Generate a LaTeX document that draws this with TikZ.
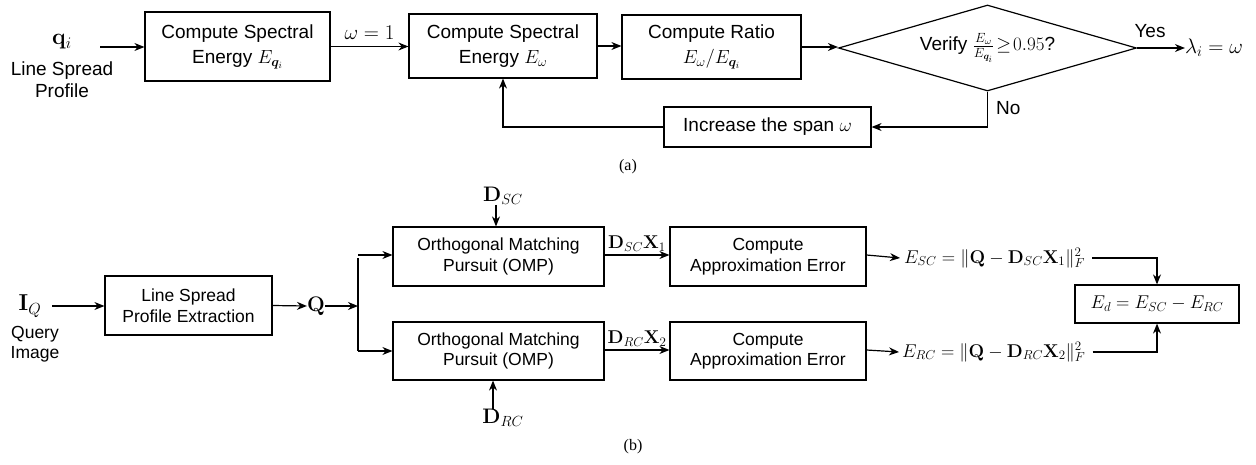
\RequirePackage{fix-cm}
\documentclass[tikz,border=0pt]{standalone}
\usepackage{amsmath,bm}
\usepackage[no-math]{fontspec}
\setmainfont{Liberation Sans}
\newfontfamily\capfont{Liberation Serif}
\usetikzlibrary{arrows.meta,shapes.geometric}
\begin{document}
\begin{tikzpicture}[x=1pt,y=-1pt,
  box/.style={draw, line width=1.2pt, align=center, inner sep=0pt, font=\fontsize{19}{25}\selectfont},
  boxb/.style={draw, line width=1.2pt, align=center, inner sep=0pt, font=\fontsize{17.5}{20.5}\selectfont},
  arr/.style={-{Stealth[length=10pt,width=8pt]}, line width=1.2pt},
  ln/.style={line width=1.2pt},
  lbl/.style={inner sep=0pt, align=center, font=\fontsize{19}{22}\selectfont},
  lblb/.style={inner sep=0pt, align=center, font=\fontsize{17.5}{20}\selectfont},
  mth/.style={inner sep=0pt, font=\fontsize{21}{23}\selectfont},
  fml/.style={inner sep=0pt, font=\fontsize{18.5}{21}\selectfont},
  big/.style={inner sep=0pt, font=\fontsize{23}{25}\selectfont},
  captxt/.style={inner sep=0pt, font=\capfont\fontsize{16}{18}\selectfont}]
\useasboundingbox (0,0) rectangle (1256,464);
% ---------- (a) ----------
\node[big] (qi) at (62,42) {$\mathbf{q}_i$};
\node[lbl] (lsp) at (62,80) {Line Spread\\Profile};
\coordinate (qa) at (100,47);
\node[box, minimum width=185pt, minimum height=69pt] (b1) at (237.5,46.5) {Compute Spectral\\Energy $E_{\bm{q}_i}$};
\node[box, minimum width=188pt, minimum height=64pt] (b2) at (503,46) {Compute Spectral\\Energy $E_{\omega}$};
\node[box, minimum width=179pt, minimum height=64pt] (b3) at (711.5,47) {Compute Ratio\\$E_{\omega}/E_{\bm{q}_i}$};
\node[draw, diamond, line width=1.2pt, inner sep=0pt, shape aspect=3.4, minimum width=298pt, minimum height=86pt, font=\fontsize{19}{22}\selectfont] (dia) at (987.5,48) {Verify $\frac{E_\omega}{E_{\bm{q}_i}}\!\geq\!0.95$?};
\node[mth] (lam) at (1214,48) {$\lambda_i=\omega$};
\node[box, minimum width=207pt, minimum height=40pt] (b4) at (767.5,127) {Increase the span $\omega$};
\draw[arr] (qa) -- (b1.west |- qa);
\draw[arr] (b1.east) -- (b2.west |- b1.east) node[midway, above=6pt, mth] {$\omega=1$};
\draw[arr] (b2.east) -- (b3.west |- b2.east);
\draw[arr] (b3.east) -- (dia.west |- b3.east);
\draw[arr] (dia.east) -- (lam.west);
\node[lbl] (yes) at (1150,31) {Yes};
\draw[arr] (dia.south) |- (b4.east);
\node[lbl, anchor=west] (no) at (996,108) {No};
\draw[arr] (b4.west) -| (b2.south);
\node[captxt] (capa) at (628,167) {(a)};
% ---------- (b) ----------
\node[big] (iq) at (30,306) {$\mathbf{I}_Q$};
\node[lblb] (qimg) at (35,344) {Query\\Image};
\coordinate (ia) at (52,306);
\node[boxb, minimum width=167pt, minimum height=59pt] (b5) at (188.5,305.5) {Line Spread\\Profile Extraction};
\node[mth] (Q) at (316,306) {$\mathbf{Q}$};
\coordinate (br) at (358,306);
\node[boxb, minimum width=211pt, minimum height=59pt] (b6) at (498.5,256.5) {Orthogonal Matching\\Pursuit (OMP)};
\node[boxb, minimum width=211pt, minimum height=58pt] (b7) at (498.5,351) {Orthogonal Matching\\Pursuit (OMP)};
\node[boxb, minimum width=196pt, minimum height=59pt] (b8) at (768,256.5) {Compute\\Approximation Error};
\node[boxb, minimum width=196pt, minimum height=58pt] (b9) at (768,351) {Compute\\Approximation Error};
\node[mth] (dsc) at (503,196) {$\mathbf{D}_{SC}$};
\node[mth] (drc) at (503,418) {$\mathbf{D}_{RC}$};
\node[fml, anchor=west] (esc) at (904,258) {$E_{SC}=\|\mathbf{Q}-\mathbf{D}_{SC}\mathbf{X}_1\|_F^2$};
\node[fml, anchor=west] (erc) at (902,352) {$E_{RC}=\|\mathbf{Q}-\mathbf{D}_{RC}\mathbf{X}_2\|_F^2$};
\node[draw, line width=1.2pt, inner sep=0pt, minimum width=164pt, minimum height=38pt, font=\fontsize{18.5}{21}\selectfont] (b10) at (1157,304) {$E_d=E_{SC}-E_{RC}$};
\draw[arr] (ia) -- (b5.west |- ia);
\draw[arr] (b5.east) -- (Q.west);
\draw[arr] (Q.east) -- (br);
\draw[ln] ([yshift=-1.5pt]br |- b6.west) -- ([yshift=0.5pt]br |- b7.west);
\draw[arr] ([yshift=1.5pt]br |- b6.west) -- ([yshift=1.5pt]b6.west);
\draw[arr] (br |- b7.west) -- (b7.west);
\draw[arr] ([xshift=-7pt]dsc.south) -- ([xshift=-7pt]dsc.south |- b6.north);
\draw[arr] ([xshift=-10pt]drc.north) -- ([xshift=-10pt]drc.north |- b7.south);
\draw[arr] ([yshift=1.5pt]b6.east) -- ([yshift=1.5pt]b8.west) node[midway, above=3pt, fml] {$\mathbf{D}_{SC}\mathbf{X}_1$};
\draw[arr] ([yshift=1pt]b7.east) -- ([yshift=1pt]b9.west) node[midway, above=3pt, fml] {$\mathbf{D}_{RC}\mathbf{X}_2$};
\draw[arr] ([yshift=1.5pt]b8.east) -- ([xshift=-4pt]esc.west);
\draw[arr] ([yshift=1pt]b9.east) -- ([xshift=-3pt]erc.west);
\draw[arr] ([xshift=7pt]esc.east) -| (b10.north);
\draw[arr] ([xshift=7pt]erc.east) -| (b10.south);
\node[captxt] (capb) at (633,447) {(b)};
\end{tikzpicture}
\end{document}
